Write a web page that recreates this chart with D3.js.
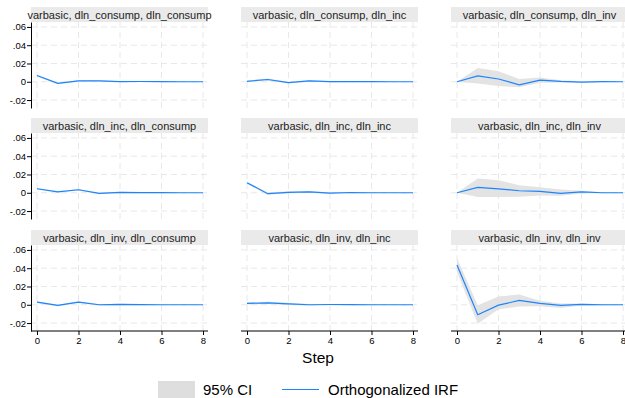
<!DOCTYPE html>
<html>
<head>
<meta charset="utf-8">
<script src="https://cdn.jsdelivr.net/npm/d3@7"></script>
<style>
  body { margin: 0; background: #fff; }
  svg { display: block; font-family: "Liberation Sans", Arial, sans-serif; }
</style>
</head>
<body>
<svg id="chart" width="625" height="398"></svg>
<script>
// steps of the impulse response
const steps = [0, 1, 2, 3, 4, 5, 6, 7, 8];
const yTicks = [-0.02, 0, 0.02, 0.04, 0.06];
const yTickLabels = ['-.02', '0', '.02', '.04', '.06'];
const xTicks = [0, 2, 4, 6, 8];

// panel titles (impulse, response)
const titles = [
  'varbasic, dln_consump, dln_consump', 'varbasic, dln_consump, dln_inc', 'varbasic, dln_consump, dln_inv',
  'varbasic, dln_inc, dln_consump', 'varbasic, dln_inc, dln_inc', 'varbasic, dln_inc, dln_inv',
  'varbasic, dln_inv, dln_consump', 'varbasic, dln_inv, dln_inc', 'varbasic, dln_inv, dln_inv',
];

// consump -> consump
const irfCC = [0.0068, -0.0018, 0.0010, 0.0010, 0.0002, 0.0003, 0.0001, 0.0000, 0.0000];
const loCC = [0.0058, -0.0028, 0.0002, 0.0003, -0.0003, -0.0001, -0.0002, -0.0001, 0.0000];
const hiCC = [0.0078, -0.0008, 0.0018, 0.0017, 0.0007, 0.0007, 0.0004, 0.0001, 0.0000];
// consump -> inc
const irfCI = [0.0005, 0.0025, -0.0010, 0.0010, 0.0001, 0.0002, 0.0001, 0.0000, 0.0000];
const loCI = [-0.0003, 0.0015, -0.0020, 0.0002, -0.0004, -0.0002, -0.0002, -0.0001, 0.0000];
const hiCI = [0.0013, 0.0035, 0.0000, 0.0018, 0.0006, 0.0006, 0.0004, 0.0001, 0.0000];
// consump -> inv
const irfCV = [0.0000, 0.0065, 0.0030, -0.0033, 0.0018, 0.0004, -0.0003, 0.0001, 0.0000];
const loCV = [0.0000, -0.0018, -0.0047, -0.0060, -0.0010, -0.0007, -0.0008, -0.0003, -0.0001];
const hiCV = [0.0000, 0.0150, 0.0116, 0.0030, 0.0047, 0.0018, 0.0005, 0.0004, 0.0001];
// inc -> consump
const irfIC = [0.0044, 0.0010, 0.0033, -0.0007, 0.0004, 0.0002, 0.0001, 0.0000, 0.0000];
const loIC = [0.0036, 0.0002, 0.0024, -0.0015, -0.0002, -0.0002, -0.0002, -0.0001, 0.0000];
const hiIC = [0.0052, 0.0018, 0.0042, 0.0001, 0.0010, 0.0006, 0.0003, 0.0001, 0.0000];
// inc -> inc
const irfII = [0.0110, -0.0010, 0.0005, 0.0010, -0.0004, 0.0003, 0.0000, 0.0000, 0.0000];
const loII = [0.0100, -0.0022, -0.0006, 0.0001, -0.0010, -0.0002, -0.0003, -0.0001, 0.0000];
const hiII = [0.0120, 0.0002, 0.0016, 0.0019, 0.0002, 0.0008, 0.0003, 0.0001, 0.0000];
// inc -> inv
const irfIV = [0.0000, 0.0058, 0.0043, 0.0022, 0.0015, -0.0007, 0.0010, 0.0000, 0.0000];
const loIV = [0.0000, -0.0047, -0.0047, -0.0043, -0.0030, -0.0033, -0.0007, -0.0003, -0.0001];
const hiIV = [0.0000, 0.0156, 0.0138, 0.0083, 0.0060, 0.0036, 0.0022, 0.0007, 0.0002];
// inv -> consump
const irfVC = [0.0029, -0.0007, 0.0029, 0.0000, 0.0004, 0.0001, 0.0000, 0.0000, 0.0000];
const loVC = [0.0020, -0.0015, 0.0019, -0.0007, -0.0002, -0.0002, -0.0001, 0.0000, 0.0000];
const hiVC = [0.0038, 0.0001, 0.0039, 0.0007, 0.0010, 0.0004, 0.0001, 0.0000, 0.0000];
// inv -> inc
const irfVI = [0.0015, 0.0020, 0.0010, 0.0000, 0.0003, 0.0002, 0.0000, 0.0000, 0.0000];
const loVI = [0.0003, 0.0008, -0.0002, -0.0008, -0.0003, -0.0003, -0.0002, -0.0001, 0.0000];
const hiVI = [0.0027, 0.0032, 0.0022, 0.0008, 0.0009, 0.0007, 0.0002, 0.0001, 0.0000];
// inv -> inv
const irfVV = [0.0435, -0.0109, -0.0004, 0.0047, 0.0015, -0.0007, 0.0004, 0.0000, 0.0000];
const loVV = [0.0359, -0.0207, -0.0050, -0.0020, -0.0015, -0.0036, -0.0007, -0.0005, -0.0002];
const hiVV = [0.0510, -0.0004, 0.0090, 0.0112, 0.0045, 0.0015, 0.0015, 0.0005, 0.0002];

const panels = [
  [irfCC, loCC, hiCC], [irfCI, loCI, hiCI], [irfCV, loCV, hiCV],
  [irfIC, loIC, hiIC], [irfII, loII, hiII], [irfIV, loIV, hiIV],
  [irfVC, loVC, hiVC], [irfVI, loVI, hiVI], [irfVV, loVV, hiVV],
].map((p, i) => ({
  title: titles[i],
  row: Math.floor(i / 3),
  col: i % 3,
  values: steps.map((s, j) => ({ step: s, irf: p[0][j], lo: p[1][j], hi: p[2][j] })),
}));

const lineColor = '#1a85ff';
const ciColor = '#e0e0e0';
const gridColor = '#e8e8e8';

const svg = d3.select('#chart');

const colLeft = [31, 241, 451];
const rowTop = [7, 118, 230];
const panelW = 177;
const headerH = 15;
const panelBottom = 101;

panels.forEach((p) => {
  const left = colLeft[p.col];
  const top = rowTop[p.row];
  const g = svg.append('g');

  const x = d3.scaleLinear().domain([0, 8]).range([left + 6, left + panelW - 5]);
  const y = d3.scaleLinear().domain([-0.0287, 0.0654]).range([top + panelBottom, top + headerH]);

  // header strip
  g.append('rect')
    .attr('x', left)
    .attr('y', top)
    .attr('width', panelW)
    .attr('height', headerH)
    .attr('fill', '#eaeaea');
  g.append('text')
    .attr('x', left + panelW / 2)
    .attr('y', top + 11.5)
    .attr('text-anchor', 'middle')
    .attr('font-size', '11px')
    .attr('fill', '#222')
    .text(p.title);

  // grid
  g.selectAll('.vgrid')
    .data(xTicks)
    .enter()
    .append('line')
    .attr('x1', d => x(d))
    .attr('x2', d => x(d))
    .attr('y1', top + headerH)
    .attr('y2', top + panelBottom)
    .attr('stroke', gridColor)
    .attr('stroke-dasharray', '6,4');
  g.selectAll('.hgrid')
    .data(yTicks)
    .enter()
    .append('line')
    .attr('x1', left)
    .attr('x2', left + panelW)
    .attr('y1', d => y(d))
    .attr('y2', d => y(d))
    .attr('stroke', gridColor)
    .attr('stroke-dasharray', '6,4');

  // CI band
  const area = d3.area()
    .x(d => x(d.step))
    .y0(d => y(d.lo))
    .y1(d => y(d.hi));
  g.append('path')
    .datum(p.values)
    .attr('d', area)
    .attr('fill', ciColor)
    .attr('fill-opacity', 0.9);

  // IRF line
  const line = d3.line()
    .x(d => x(d.step))
    .y(d => y(d.irf));
  g.append('path')
    .datum(p.values)
    .attr('d', line)
    .attr('fill', 'none')
    .attr('stroke', lineColor)
    .attr('stroke-width', 1.2);

  // y axis on first column
  if (p.col === 0) {
    const yAxis = d3.axisLeft(y)
      .tickValues(yTicks)
      .tickFormat((d, i) => yTickLabels[i])
      .tickSize(4)
      .tickSizeOuter(0);
    const ya = g.append('g')
      .attr('transform', `translate(${left},0)`)
      .call(yAxis);
    ya.select('.domain').attr('stroke', '#000');
    ya.selectAll('.tick line').attr('stroke', '#000');
    ya.selectAll('.tick text')
      .attr('font-size', '9.5px')
      .attr('font-family', '"Liberation Sans", Arial, sans-serif')
      .attr('fill', '#000')
      .attr('x', -5);
  }

  // x axis on bottom row
  if (p.row === 2) {
    const xAxis = d3.axisBottom(x)
      .tickValues(xTicks)
      .tickFormat(d3.format('d'))
      .tickSize(4)
      .tickSizeOuter(0);
    const xa = g.append('g')
      .attr('transform', `translate(0,${top + panelBottom})`)
      .call(xAxis);
    xa.select('.domain').attr('d', `M${left},0H${left + panelW}`).attr('stroke', '#000');
    xa.selectAll('.tick line').attr('stroke', '#000');
    xa.selectAll('.tick text')
      .attr('font-size', '9.5px')
      .attr('font-family', '"Liberation Sans", Arial, sans-serif')
      .attr('fill', '#000')
      .attr('y', 6);
  }
});

// x axis title
svg.append('text')
  .attr('x', 318)
  .attr('y', 363)
  .attr('text-anchor', 'middle')
  .attr('font-size', '15.5px')
  .attr('fill', '#000')
  .text('Step');

// legend
const legend = svg.append('g');
legend.append('rect')
  .attr('x', 158)
  .attr('y', 381)
  .attr('width', 37)
  .attr('height', 17)
  .attr('fill', '#dedede');
legend.append('text')
  .attr('x', 203)
  .attr('y', 395)
  .attr('font-size', '15px')
  .attr('fill', '#000')
  .text('95% CI');
legend.append('line')
  .attr('x1', 282)
  .attr('x2', 319)
  .attr('y1', 389.5)
  .attr('y2', 389.5)
  .attr('stroke', lineColor)
  .attr('stroke-width', 1.2);
legend.append('text')
  .attr('x', 328)
  .attr('y', 395)
  .attr('font-size', '15px')
  .attr('fill', '#000')
  .text('Orthogonalized IRF');
</script>
</body>
</html>
